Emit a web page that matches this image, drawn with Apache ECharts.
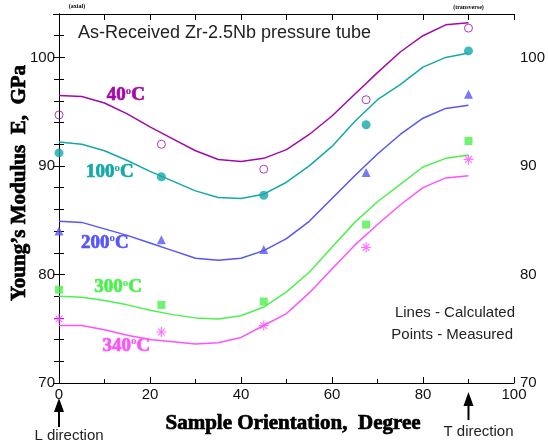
<!DOCTYPE html>
<html>
<head>
<meta charset="utf-8">
<script src="https://cdn.jsdelivr.net/npm/echarts@6/dist/echarts.min.js"></script>
<style>
  html, body { margin: 0; padding: 0; background: #fff; }
  #chart { width: 548px; height: 443px; }
</style>
</head>
<body>
<div id="chart"></div>
<script>
// Calculated modulus curves (every 5 degrees)
const angles = [0, 5, 10, 15, 20, 25, 30, 35, 40, 45, 50, 55, 60, 65, 70, 75, 80, 85, 90];
const calc40  = [96.5, 96.4, 95.8, 94.8, 93.6, 92.5, 91.4, 90.6, 90.4, 90.7, 91.5, 92.9, 94.6, 96.6, 98.6, 100.5, 102.0, 103.0, 103.2];
const calc100 = [92.2, 92.0, 91.4, 90.5, 89.5, 88.6, 87.7, 87.1, 87.0, 87.4, 88.5, 90.0, 91.8, 94.1, 96.1, 97.5, 99.1, 100.0, 100.4];
const calc200 = [84.9, 84.8, 84.2, 83.6, 82.9, 82.2, 81.5, 81.3, 81.5, 82.2, 83.3, 84.9, 87.0, 89.1, 91.1, 92.9, 94.4, 95.3, 95.6];
const calc300 = [78.0, 77.9, 77.6, 77.2, 76.7, 76.3, 76.0, 75.9, 76.2, 77.0, 78.4, 80.2, 82.5, 84.8, 86.7, 88.3, 89.9, 90.7, 91.0];
const calc340 = [75.3, 75.3, 74.9, 74.4, 74.0, 73.8, 73.6, 73.7, 74.2, 75.3, 76.4, 78.3, 80.5, 82.7, 84.6, 86.4, 88.0, 88.9, 89.1];

// Measured values
const measAngles = [0, 22.5, 45, 67.5, 90];
const meas40  = [94.7, 92.0, 89.7, 96.1, 102.7];
const meas100 = [91.2, 89.0, 87.3, 93.8, 100.6];
const meas200 = [84.0, 83.2, 82.3, 89.4, 96.6];
const meas300 = [78.6, 77.2, 77.5, 84.6, 92.3];
const meas340 = [75.9, 74.7, 75.3, 82.5, 90.6];

const temps = ['40', '100', '200', '300', '340'];
const colors = ['#a20aa8', '#14a8a8', '#5656f6', '#4ef04e', '#ff52ff'];
const calcSets = [calc40, calc100, calc200, calc300, calc340];
const measSets = [meas40, meas100, meas200, meas300, meas340];
// where each temperature tag sits, in data units
const tagAngle = [14.7, 11.2, 10.1, 13.0, 14.8];
const tagValue = [96.5, 89.4, 82.9, 78.8, 73.4];

const yTicks = [70, 80, 90, 100];
const xTicks = [0, 20, 40, 60, 80, 100];

const asterisk = 'path://M5,0L5,10M0,5L10,5M1.6,1.6L8.4,8.4M1.6,8.4L8.4,1.6';
const symbols = ['circle', 'circle', 'triangle', 'rect', asterisk];
const filled = [false, true, true, true, false];
const symSize = [8, 9, 9, 8, 10];
const strokeW = [1, 0, 0, 0, 1.2];

const pair = (xs, ys) => xs.map((x, i) => [x, ys[i]]);

const series = [];
temps.forEach((t, k) => {
  series.push({
    type: 'line', name: t + ' calc', data: pair(angles, calcSets[k]),
    showSymbol: false, smooth: false, silent: true,
    lineStyle: { color: colors[k], width: 1.5 }, z: 2
  });
  series.push({
    type: 'scatter', name: t + ' meas', data: pair(measAngles, measSets[k]),
    symbol: symbols[k], symbolSize: symSize[k], silent: true,
    itemStyle: filled[k]
      ? { color: colors[k] }
      : { color: 'rgba(0,0,0,0)', borderColor: colors[k], borderWidth: strokeW[k] },
    z: 3
  });
});

const axisFont = { fontFamily: 'Liberation Sans', fontSize: 15, color: '#111' };
const lineStyle = { color: '#000', width: 1 };

const chart = echarts.init(document.getElementById('chart'));
chart.setOption({
  animation: false,
  backgroundColor: '#fff',
  grid: { left: 59, right: 25, top: 14, bottom: 60 },
  xAxis: [
    {
      type: 'value', min: 0, max: 100, interval: 20, position: 'bottom',
      axisLine: { lineStyle },
      axisTick: { inside: true, length: 6, lineStyle },
      minorTick: { show: true, splitNumber: 2, length: 4, lineStyle },
      splitLine: { show: false },
      axisLabel: Object.assign({ margin: 4,
        formatter: v => xTicks.includes(v) ? String(v) : '' }, axisFont)
    },
    {
      type: 'value', min: 0, max: 100, interval: 10, position: 'top',
      axisLine: { lineStyle },
      axisTick: { inside: true, length: 6, lineStyle },
      splitLine: { show: false },
      axisLabel: { show: false }
    }
  ],
  yAxis: [
    {
      type: 'value', min: 70, max: 104, interval: 10, position: 'left',
      axisLine: { show: true, lineStyle },
      axisTick: { inside: true, length: 6, lineStyle },
      minorTick: { show: true, splitNumber: 5, length: 5, lineStyle },
      splitLine: { show: false },
      axisLabel: Object.assign({ margin: 4,
        formatter: v => yTicks.includes(v) ? String(v) : '' }, axisFont)
    },
    {
      type: 'value', min: 70, max: 104, interval: 10, position: 'right',
      axisLine: { show: true, lineStyle },
      axisTick: { inside: true, length: 6, lineStyle },
      minorTick: { show: true, splitNumber: 5, length: 5, lineStyle },
      splitLine: { show: false },
      axisLabel: Object.assign({ margin: 6,
        formatter: v => yTicks.includes(v) ? String(v) : '' }, axisFont)
    }
  ],
  series: series
});

// Annotations placed from data coordinates
const px = (x, y) => chart.convertToPixel({ xAxisIndex: 0, yAxisIndex: 0 }, [x, y]);
const graphics = [];

temps.forEach((t, k) => {
  const p = px(tagAngle[k], tagValue[k]);
  graphics.push({
    type: 'text', x: p[0], y: p[1], z: 10,
    style: {
      text: '{n|' + t + '}{s|o}{n|C}',
      align: 'center', verticalAlign: 'middle',
      rich: {
        n: { fontFamily: 'Liberation Serif', fontWeight: 'bold', fontSize: 19,
             fill: colors[k], stroke: colors[k], lineWidth: 0.7, lineHeight: 20 },
        s: { fontFamily: 'Liberation Serif', fontWeight: 'bold', fontSize: 11,
             fill: colors[k], verticalAlign: 'top', lineHeight: 20, padding: [0, 0, 8, 0] }
      }
    }
  });
});

const titleFont = 'bold 21px "Liberation Serif"';
graphics.push(
  { type: 'text', x: 78, y: 33, style: { text: 'As-Received Zr-2.5Nb pressure tube',
      font: '18px "Liberation Sans"', fill: '#222', verticalAlign: 'middle' } },
  { type: 'text', x: 515, y: 313, style: { text: 'Lines - Calculated',
      font: '15px "Liberation Sans"', fill: '#222', align: 'right', verticalAlign: 'middle' } },
  { type: 'text', x: 513, y: 335, style: { text: 'Points - Measured',
      font: '15px "Liberation Sans"', fill: '#222', align: 'right', verticalAlign: 'middle' } },
  { type: 'text', x: 293, y: 424, style: { text: 'Sample Orientation,  Degree',
      font: titleFont, fill: '#000', stroke: '#000', lineWidth: 0.7,
      align: 'center', verticalAlign: 'middle' } },
  { type: 'text', x: 20, y: 183, rotation: Math.PI / 2, style: { text: 'Young\u2019s Modulus  E,  GPa',
      font: titleFont, fill: '#000', stroke: '#000', lineWidth: 0.7,
      align: 'center', verticalAlign: 'middle' } }
);

// Direction arrows under the 0 and 90 degree positions
[[0, 'L direction', 398, 427, 436], [90, 'T direction', 392, 420, 432]].forEach(a => {
  const cx = px(a[0], 70)[0];
  graphics.push(
    { type: 'polygon', shape: { points: [[cx, a[2]], [cx - 5, a[2] + 14], [cx + 5, a[2] + 14]] },
      style: { fill: '#000' } },
    { type: 'line', shape: { x1: cx, y1: a[2] + 10, x2: cx, y2: a[3] },
      style: { stroke: '#000', lineWidth: 2 } },
    { type: 'text', x: cx + 10, y: a[4], style: { text: a[1],
        font: '15px "Liberation Sans"', fill: '#222', align: 'center', verticalAlign: 'middle' } }
  );
});

// Small captions over the top axis
const topL = px(0, 104), topR = px(90, 104);
graphics.push(
  { type: 'text', x: topL[0] + 18, y: topL[1] - 8, style: { text: '(axial)',
      font: 'bold 6px "Liberation Serif"', fill: '#000', align: 'center', verticalAlign: 'middle' } },
  { type: 'text', x: topR[0], y: topR[1] - 7, style: { text: '(transverse)',
      font: 'bold 6px "Liberation Serif"', fill: '#000', align: 'center', verticalAlign: 'middle' } }
);

chart.setOption({ graphic: graphics });
</script>
</body>
</html>
